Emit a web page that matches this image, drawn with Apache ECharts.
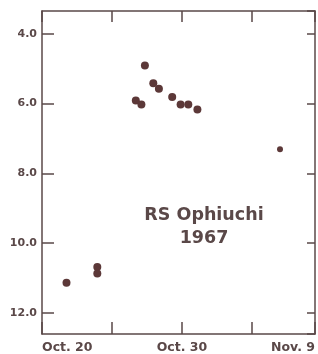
<!DOCTYPE html>
<html>
<head>
<meta charset="utf-8">
<script src="https://cdn.jsdelivr.net/npm/echarts@6/dist/echarts.min.js"></script>
<style>
  html, body { margin: 0; padding: 0; background: #fff; }
  #chart { width: 318px; height: 354px; }
</style>
</head>
<body>
<div id="chart"></div>
<script>
// day of October (Nov. 9 = 40), visual magnitude
const days = [26.7, 27.1, 27.35, 27.95, 28.35, 29.3, 29.9, 30.45, 31.1, 37.0, 21.75, 23.95, 23.95];
const mags = [5.91, 6.03, 4.91, 5.42, 5.58, 5.81, 6.03, 6.03, 6.17, 7.31, 11.13, 10.68, 10.87];
const dateLabels = { 20: 'Oct. 20', 30: 'Oct. 30' };
const lastLabel = 'Nov. 9';

const ink = '#5a4848';
const dot = '#5c3838';

const points = days.map((d, i) => ({
  value: [d, mags[i]],
  symbolSize: d > 35 ? 6 : 8
}));

const chart = echarts.init(document.getElementById('chart'));

const xRange = { type: 'value', min: 20, max: 39.5, interval: 5, splitLine: { show: false } };
// y ticks fall on 4, 6, 8, 10, 12 by themselves
const yRange = { type: 'value', inverse: true, min: 3.35, max: 12.6, splitLine: { show: false } };
const frameLine = { show: true, lineStyle: { color: ink, width: 1.5 } };
const tick = len => ({ show: true, inside: true, length: len, lineStyle: { color: ink, width: 1.5 } });

const labelFont = {
  color: ink,
  fontFamily: 'DejaVu Sans',
  fontWeight: 'bold'
};

chart.setOption({
  animation: false,
  grid: { left: 42, top: 11, right: 1, bottom: 19 },
  title: {
    text: 'RS Ophiuchi\n1967',
    left: 199,
    top: 199,
    textAlign: 'center',
    textStyle: {
      color: ink,
      fontFamily: 'DejaVu Sans',
      fontWeight: 'bold',
      fontSize: 17.5,
      lineHeight: 23
    }
  },
  xAxis: [{
    ...xRange,
    position: 'bottom',
    axisLine: frameLine,
    axisTick: tick(12),
    axisLabel: {
      ...labelFont,
      fontSize: 12.5,
      margin: 7,
      showMinLabel: true,
      showMaxLabel: true,
      alignMinLabel: 'left',
      alignMaxLabel: 'right',
      formatter: v => (v > 39 ? lastLabel : (dateLabels[v] || ''))
    }
  }, {
    ...xRange,
    position: 'top',
    axisLine: frameLine,
    axisTick: tick(11),
    axisLabel: { show: false }
  }],
  yAxis: [{
    ...yRange,
    position: 'left',
    axisLine: frameLine,
    axisTick: tick(12),
    axisLabel: {
      ...labelFont,
      fontSize: 11,
      margin: 5,
      showMinLabel: false,
      showMaxLabel: false,
      formatter: v => v.toFixed(1)
    }
  }, {
    ...yRange,
    position: 'right',
    axisLine: frameLine,
    axisTick: tick(8),
    axisLabel: { show: false }
  }],
  series: [{
    type: 'scatter',
    xAxisIndex: 0,
    yAxisIndex: 0,
    data: points,
    itemStyle: { color: dot, opacity: 1 }
  }]
});
</script>
</body>
</html>
